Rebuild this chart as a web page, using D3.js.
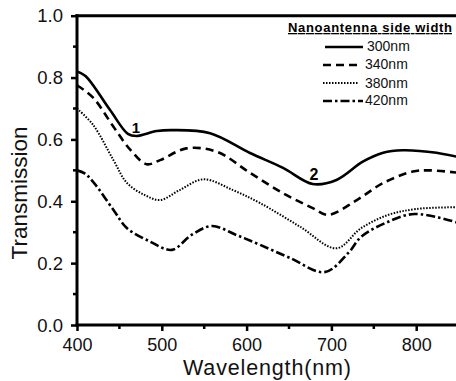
<!DOCTYPE html>
<html>
<head>
<meta charset="utf-8">
<script src="https://cdn.jsdelivr.net/npm/d3@7"></script>
<style>
  body { margin: 0; background: #fff; }
  svg { display: block; font-family: "Liberation Sans", Arial, sans-serif; }
</style>
</head>
<body>
<div id="chart"></div>
<script>
// readings, wavelength (nm) -> transmission
const wl300 = [400, 410, 439, 460, 470, 494, 513, 557, 604, 643, 678, 706, 737, 761, 784, 824, 850];
const t300  = [0.82, 0.805, 0.695, 0.618, 0.611, 0.627, 0.630, 0.62, 0.556, 0.508, 0.456, 0.469, 0.528, 0.557, 0.565, 0.557, 0.543];

const wl340 = [400, 419, 443, 463, 482, 498, 529, 565, 604, 643, 678, 696, 730, 761, 796, 816, 850];
const t340  = [0.775, 0.735, 0.641, 0.566, 0.52, 0.533, 0.571, 0.56, 0.492, 0.426, 0.378, 0.356, 0.404, 0.459, 0.496, 0.50, 0.492];

const wl380 = [400, 419, 443, 459, 480, 498, 521, 549, 584, 616, 663, 706, 735, 767, 800, 850];
const t380  = [0.70, 0.647, 0.533, 0.459, 0.42, 0.404, 0.436, 0.471, 0.436, 0.394, 0.318, 0.248, 0.313, 0.356, 0.375, 0.381];

const wl420 = [400, 409, 419, 443, 459, 486, 512, 535, 559, 588, 616, 651, 692, 720, 735, 763, 798, 850];
const t420  = [0.50, 0.49, 0.463, 0.372, 0.313, 0.27, 0.243, 0.291, 0.32, 0.291, 0.259, 0.217, 0.171, 0.233, 0.285, 0.329, 0.359, 0.33];

const seriesNames = ['300nm', '340nm', '380nm', '420nm'];
const xTicks = [400, 500, 600, 700, 800];
const yTicks = [0.0, 0.2, 0.4, 0.6, 0.8, 1.0];

const width = 456, height = 381;
const plotL = 77, plotR = 458.6, plotT = 15.7, plotB = 325;

const x = d3.scaleLinear().domain([400, 850]).range([plotL, plotR]);
const y = d3.scaleLinear().domain([0, 1]).range([plotB, plotT]);

const svg = d3.select('#chart').append('svg')
    .attr('width', width)
    .attr('height', height);

svg.append('rect').attr('width', width).attr('height', height).attr('fill', '#fff');

svg.append('clipPath').attr('id', 'plot')
  .append('rect')
    .attr('x', plotL).attr('y', plotT)
    .attr('width', plotR - plotL).attr('height', plotB - plotT);

const styles = [
  { w: 2.6, dash: null },
  { w: 2.6, dash: '8,5' },
  { w: 2, dash: '1.5,1.5' },
  { w: 2.6, dash: '9,3,2.5,3' },
];

const allSeries = [[wl300, t300], [wl340, t340], [wl380, t380], [wl420, t420]];

const line = d3.line()
    .x(d => x(d[0]))
    .y(d => y(d[1]))
    .curve(d3.curveCatmullRom.alpha(0.5));

const curves = svg.append('g').attr('clip-path', 'url(#plot)');
allSeries.forEach((s, i) => {
  const pts = s[0].map((w, j) => [w, s[1][j]]);
  curves.append('path')
      .attr('d', line(pts))
      .attr('fill', 'none')
      .attr('stroke', '#000')
      .attr('stroke-width', styles[i].w)
      .attr('stroke-dasharray', styles[i].dash);
});

// axes
const xAxis = d3.axisBottom(x).tickValues(xTicks).tickSize(6).tickSizeOuter(0).tickPadding(7);
const yAxis = d3.axisLeft(y).tickValues(yTicks).tickSize(6).tickSizeOuter(0).tickPadding(8)
    .tickFormat(d3.format('.1f'));

const gx = svg.append('g').attr('transform', `translate(0,${plotB})`).call(xAxis);
const gy = svg.append('g').attr('transform', `translate(${plotL},0)`).call(yAxis);

[gx, gy].forEach(g => {
  g.select('.domain').attr('stroke', '#000').attr('stroke-width', 3);
  g.selectAll('.tick line').attr('stroke', '#000').attr('stroke-width', 2.5);
  g.selectAll('.tick text').attr('fill', '#111').attr('font-size', 18.5)
      .attr('font-family', '"Liberation Sans", Arial, sans-serif');
});
gx.selectAll('.tick text').attr('font-size', 18);
gy.select('.domain').attr('d', `M0,${plotB + 1.5}V${plotT - 1.5}`);
gx.select('.domain').attr('d', `M${plotL - 1.5},0H${width}`);
gy.selectAll('.tick text').attr('dy', '0.34em');
gx.selectAll('.tick text').attr('dy', '0.71em');

// minor ticks
svg.append('g').selectAll('line')
  .data([450, 550, 650, 750, 850])
  .join('line')
    .attr('x1', d => x(d)).attr('x2', d => x(d))
    .attr('y1', plotB).attr('y2', plotB + 4)
    .attr('stroke', '#000').attr('stroke-width', 2.5);
svg.append('g').selectAll('line')
  .data([0.1, 0.3, 0.5, 0.7, 0.9])
  .join('line')
    .attr('x1', plotL - 4).attr('x2', plotL)
    .attr('y1', d => y(d)).attr('y2', d => y(d))
    .attr('stroke', '#000').attr('stroke-width', 2.5);

// top frame line
svg.append('line')
    .attr('x1', plotL - 1.5).attr('x2', width)
    .attr('y1', y(1)).attr('y2', y(1))
    .attr('stroke', '#000').attr('stroke-width', 3);

// axis titles
svg.append('text')
    .attr('x', 267).attr('y', 374.5)
    .attr('text-anchor', 'middle')
    .attr('font-size', 21.5)
    .attr('textLength', 168)
    .attr('fill', '#111')
    .text('Wavelength(nm)');

svg.append('text')
    .attr('transform', `translate(27,193) rotate(-90)`)
    .attr('text-anchor', 'middle')
    .attr('font-size', 22.5)
    .attr('fill', '#111')
    .text('Transmission');

// curve labels
svg.append('text').attr('x', 136).attr('y', 133).attr('text-anchor', 'middle')
    .attr('font-size', 15).attr('font-weight', 'bold').text('1');
svg.append('text').attr('x', 314).attr('y', 180).attr('text-anchor', 'middle')
    .attr('font-size', 16).attr('font-weight', 'bold').text('2');

// legend
svg.append('text')
    .attr('x', 288).attr('y', 32)
    .attr('font-size', 13).attr('font-weight', 'bold')
    .attr('textLength', 164)
    .attr('text-decoration', 'underline')
    .text('Nanoantenna side width');

const legendRows = [
  { y: 47, x1: 325, x2: 363, ty: 51 },
  { y: 65, x1: 323, x2: 358, ty: 69 },
  { y: 83, x1: 323, x2: 358, ty: 87.5 },
  { y: 101, x1: 323, x2: 363, ty: 105 },
];
const leg = svg.append('g');
seriesNames.forEach((name, i) => {
  const r = legendRows[i];
  leg.append('line')
      .attr('x1', r.x1).attr('x2', r.x2)
      .attr('y1', r.y).attr('y2', r.y)
      .attr('stroke', '#000')
      .attr('stroke-width', styles[i].w)
      .attr('stroke-dasharray', styles[i].dash);
  leg.append('text')
      .attr('x', i === 0 ? 367 : 365).attr('y', r.ty)
      .attr('font-size', 14)
      .attr('fill', '#111')
      .text(name);
});
</script>
</body>
</html>
